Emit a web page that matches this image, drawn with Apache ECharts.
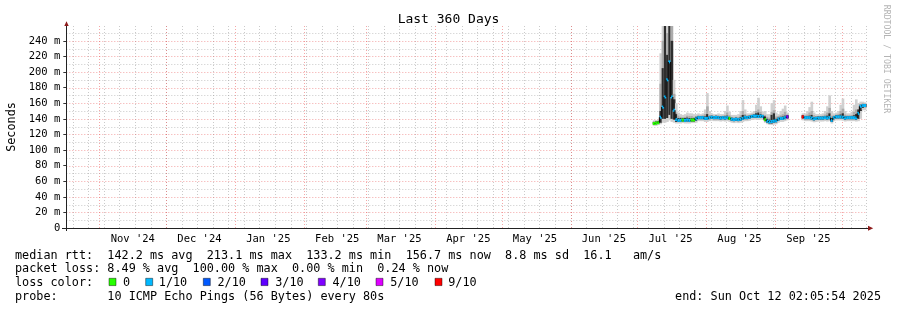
<!DOCTYPE html>
<html><head><meta charset="utf-8">
<script src="https://cdn.jsdelivr.net/npm/echarts@6/dist/echarts.min.js"></script>
<style>html,body{margin:0;padding:0;background:#fff}#c{width:897px;height:310px}</style>
</head><body><div id="c"></div>
<script>
// ---------- time frame ----------
const START = Date.UTC(2024, 9, 17, 2, 5, 54);
const END = Date.UTC(2025, 9, 12, 2, 5, 54);
const DAY = 86400000;
const DATA_START = Date.UTC(2025, 6, 8); // first daily sample (Jul 8 2025)

// ---------- tick labels ----------
const monthLabels = ["Nov '24","Dec '24","Jan '25","Feb '25","Mar '25","Apr '25","May '25","Jun '25","Jul '25","Aug '25","Sep '25"];
const yTicks = [0,20,40,60,80,100,120,140,160,180,200,220,240];
const yMinor = [10,30,50,70,90,110,130,150,170,190,210,230,250];

// ---------- daily values (ms), null = no data ----------
const median = [
134,134.5,135,142,155,168,190,213,168,151,
139,138,138,138.5,138,138.5,138,138.5,138.5,140,
141.5,141.5,141.5,140.5,140.5,141.5,142,141.5,141.8,141.5,
141,141.5,141,141.5,140.5,139.5,139,139.5,139,139.5,
140.5,141.8,141.5,142,143,143.5,143.5,143,143.5,143,
139,137,136,136.5,137,137.5,139.5,140.5,140.5,141.5,
142.5,null,null,null,null,null,null,142.5,141.5,141.5,
141.5,141,140,140.5,141,141,141,141.5,141,141.5,
138,141.5,142.5,142.5,142.5,142,141,141.5,141.5,141.5,
141.5,141,147,156,157,157];
// loss in tenths (pings lost out of 10)
const loss = [
0,0,0,1,1,1,1,1,1,1,
1,1,1,0,1,1,1,0,0,1,
1,1,1,1,1,1,1,1,1,1,
1,1,1,1,0,1,1,1,1,1,
1,1,1,1,1,1,1,1,1,1,
0,1,1,1,1,1,1,1,1,1,
4,null,null,null,null,null,null,9,1,1,
1,1,1,1,1,1,1,1,1,1,
1,1,1,1,1,1,1,1,1,1,
1,1,1,1,1,1];
// smoke: outer low / outer high / middle high / core low / core high
const smokeLo = [
131,131,132,133,135,135,136,138,136,135,
134,134,134,134.5,134,134,134,134.5,134.5,135,
137,137,137,136,136,137,137.5,137,137,137,
136.5,137,136.5,137,136,135,134.5,135,134.5,135,
136,137,137,137.5,138.5,139,139,138.5,139,138.5,
135,133,132,132,132.5,133,135,136,136,137,
138,null,null,null,null,null,null,138,137,137,
137,136.5,135.5,136,136.5,136.5,136.5,137,136.5,137,
134,137,138,138,138,137.5,136.5,137,137,137,
137,136.5,137,140,151,151];
const smokeHi = [
138,138.5,139,224,262,262,262,262,262,190,
160,148,146,145,146,148,147,147,146,146,
147,146,147,152,173,150,147,146,146,147,
146,146,150,157,149,145,145,145,146,150,
164,152,147,147,148,150,158,167,156,149,
150,146,146,160,164,148,146,150,153,157,
148,null,null,null,null,null,null,147,147,150,
155,162,148,146,146,146,147,150,156,170,
150,147,148,150,158,166,150,147,147,149,
158,165,160,162,162,161];
const midHi = [
136.5,137,137.5,185,240,262,250,262,262,172,
148,144,142.5,142,142.5,144,143.5,143.5,142.5,143.5,
144.5,144,144.5,146,156,145,144.5,144,144,144.5,
143.5,144,145,148,144.5,142.5,142,142.5,142.5,144.5,
150,146,144.5,144.5,145.5,146.5,150,152,149,145.5,
145,142.5,141.5,149,151,143,143.5,144.5,146,149,
145.5,null,null,null,null,null,null,145,144.5,145.5,
148,150,144.5,143.5,143.5,143.5,144,145.5,148,154,
144,144.5,145.5,146.5,150,153,145.5,144.5,144.5,145,
149,152,152,159,160,159.5];
const coreLo = [
133,133,133.5,135,140,140,141,145,140,139,
136,136,136,136.5,136,136.5,136,136.5,136.5,137.5,
139.5,139.5,139.5,138.5,138.5,139.5,140,139.5,139.5,139.5,
139,139.5,139,139.5,138.5,137.5,137,137.5,137,137.5,
138.5,139.5,139.5,140,141,141.5,141.5,141,141.5,141,
137,135,134,134,135,135.5,137.5,138.5,138.5,139.5,
140.5,null,null,null,null,null,null,140.5,139.5,139.5,
139.5,139,138,138.5,139,139,139,139.5,139,139.5,
136,139.5,140.5,140.5,140.5,140,139,139.5,139.5,139.5,
139.5,139,140,150,154,155];
const coreHi = [
136,136.5,137,150,205,262,222,262,240,165,
146,141,141,141,141,141.5,141,141,141,142.5,
143.5,143.5,143.5,143,146,143.5,144,143.5,144,143.5,
143,143.5,143,144,142.5,141.5,141,141.5,141,142,
145,144,143.5,144,145,145.5,147,148,146,145,
143,140,139,145,147,140,141.5,142.5,143,144,
144.5,null,null,null,null,null,null,144.5,143.5,143.5,
144,145,142,142.5,143,143,143,143.5,144,147,
141,143.5,144.5,144.5,145.5,147,143,143.5,143.5,143.5,
144.5,146,152,158,159,159];

const LOSS_COLORS = {0:'#26ff00',1:'#00b8ff',2:'#0059ff',3:'#5e00ff',4:'#7e00ff',5:'#dd00ff',9:'#ff0000'};
const legendLoss = [[0,'0'],[1,'1/10'],[2,'2/10'],[3,'3/10'],[4,'4/10'],[5,'5/10'],[9,'9/10']];

// ---------- grid positions ----------
const monthStarts = [];
for (let k = 0; k < 12; k++) monthStarts.push(Date.UTC(2024, 10 + k, 1));
const labelTimes = monthLabels.map((_, k) => Date.UTC(2024, 10 + k, 16));
const weeks = [];
for (let t = Date.UTC(2024, 9, 20); t <= END; t += 7 * DAY) weeks.push(t);

// ---------- build series data ----------
const smokeData = [], medData = [];
median.forEach((m, i) => {
  if (m == null) return;
  const t = DATA_START + i * DAY;
  smokeData.push([t, smokeLo[i], smokeHi[i], midHi[i], coreLo[i], coreHi[i]]);
  const prev = i > 0 ? median[i - 1] : null;
  medData.push([t, m, loss[i], prev == null ? NaN : prev]);
});
const vgridData = weeks.map(t => [t, 0, 0]).concat(monthStarts.map(t => [t, 0, 1]));
const hgridData = yMinor.map(v => [START, v, 0]).concat(yTicks.filter(v => v > 0).map(v => [START, v, 1]));

const MONO = '"DejaVu Sans Mono", monospace';
const MINOR = {stroke: 'rgba(150,150,150,0.5)', lineWidth: 1, lineDash: [1, 2]};
const MAJOR = {stroke: 'rgba(235,80,80,0.5)', lineWidth: 1, lineDash: [1, 2]};

const chart = echarts.init(document.getElementById('c'));

const graphics = [];
function txt(x, y, s, opt) {
  graphics.push(Object.assign({type: 'text', x: x, y: y, silent: true,
    style: Object.assign({text: s, font: '11.8px ' + MONO, fill: '#000', align: 'left', verticalAlign: 'middle'}, opt || {})}));
}
// title
txt(448.5, 19.4, 'Last 360 Days', {font: '13px ' + MONO, align: 'center'});
// y axis name
graphics.push({type: 'text', x: 11.5, y: 127, rotation: Math.PI / 2, silent: true,
  style: {text: 'Seconds', font: '11.8px ' + MONO, fill: '#000', align: 'center', verticalAlign: 'middle'}});
// watermark
graphics.push({type: 'text', x: 886.6, y: 59, rotation: -Math.PI / 2, silent: true,
  style: {text: 'RRDTOOL / TOBI OETIKER', font: '8.2px ' + MONO, fill: '#b4b4b4', align: 'center', verticalAlign: 'middle'}});
// axes
graphics.push({type: 'line', silent: true, z: 50, shape: {x1: 62, y1: 228.5, x2: 868, y2: 228.5}, style: {stroke: '#222', lineWidth: 1}});
graphics.push({type: 'line', silent: true, z: 50, shape: {x1: 66.5, y1: 26, x2: 66.5, y2: 231}, style: {stroke: '#222', lineWidth: 1}});
graphics.push({type: 'polygon', silent: true, z: 50, shape: {points: [[64.3, 26], [68.7, 26], [66.5, 21.3]]}, style: {fill: '#8e1b1b'}});
graphics.push({type: 'polygon', silent: true, z: 50, shape: {points: [[868, 225.8], [868, 230.8], [873.2, 228.3]]}, style: {fill: '#8e1b1b'}});
// legend
txt(15, 255.8, 'median rtt:  142.2 ms avg  213.1 ms max  133.2 ms min  156.7 ms now  8.8 ms sd  16.1   am/s');
txt(15, 269.4, 'packet loss: 8.49 % avg  100.00 % max  0.00 % min  0.24 % now');
txt(15, 283, 'loss color:');
const boxX = [109, 145.7, 203.3, 261, 318.3, 376, 435];
const boxTxtX = [123, 158.8, 217.5, 275.2, 332.5, 390.2, 448.2];
legendLoss.forEach(([lv, label], k) => {
  graphics.push({type: 'rect', silent: true, shape: {x: boxX[k], y: 278.3, width: 7, height: 7.3},
    style: {fill: LOSS_COLORS[lv], stroke: 'rgba(0,0,0,0.55)', lineWidth: 0.8}});
  txt(boxTxtX[k], 283, label);
});
txt(15, 297.2, 'probe:       10 ICMP Echo Pings (56 Bytes) every 80s');
txt(881, 297.2, 'end: Sun Oct 12 02:05:54 2025', {align: 'right'});

chart.setOption({
  backgroundColor: '#fff',
  animation: false,
  grid: {left: 66.3, top: 26, width: 800, height: 202},
  xAxis: {
    type: 'value', min: START, max: END,
    axisLine: {show: false}, axisTick: {show: false}, splitLine: {show: false},
    axisLabel: {
      customValues: labelTimes, margin: 6, hideOverlap: false,
      fontFamily: MONO, fontSize: 10.5, color: '#000',
      formatter: v => { const k = labelTimes.indexOf(v); return k >= 0 ? monthLabels[k] : ''; }
    }
  },
  yAxis: {
    type: 'value', min: 0, max: 259,
    axisLine: {show: false}, splitLine: {show: false},
    axisTick: {show: true, length: 3, customValues: yTicks, lineStyle: {color: '#333'}},
    axisLabel: {customValues: yTicks, margin: 6, fontFamily: MONO, fontSize: 10.5, color: '#000',
      formatter: v => v === 0 ? '0' : v + ' m'}
  },
  graphic: graphics,
  series: [
    {
      type: 'custom', name: 'vgrid', z: 1, silent: true, data: vgridData,
      renderItem: (params, api) => {
        const cs = params.coordSys;
        const x = Math.round(api.coord([api.value(0), 0])[0]) + 0.5;
        return {type: 'line', shape: {x1: x, y1: cs.y, x2: x, y2: cs.y + cs.height},
          style: Object.assign({}, api.value(2) ? MAJOR : MINOR)};
      }
    },
    {
      type: 'custom', name: 'hgrid', z: 1, silent: true, data: hgridData,
      renderItem: (params, api) => {
        const cs = params.coordSys;
        const y = Math.round(api.coord([START, api.value(1)])[1]) + 0.5;
        return {type: 'line', shape: {x1: cs.x, y1: y, x2: cs.x + cs.width, y2: y},
          style: Object.assign({}, api.value(2) ? MAJOR : MINOR)};
      }
    },
    {
      type: 'custom', name: 'smoke', z: 2, silent: true, data: smokeData,
      renderItem: (params, api) => {
        const cs = params.coordSys;
        const top = cs.y, bottom = cs.y + cs.height;
        const t = api.value(0);
        const xa = api.coord([t, 0])[0], xb = api.coord([t + DAY, 0])[0];
        const band = (lo, hi, fill) => {
          let y1 = Math.max(api.coord([t, hi])[1], top);
          let y2 = Math.min(api.coord([t, lo])[1], bottom);
          return {type: 'rect', shape: {x: xa, y: y1, width: xb - xa + 0.4, height: y2 - y1}, style: {fill: fill}};
        };
        return {type: 'group', children: [
          band(api.value(1), api.value(2), '#d0d0d0'),
          band(api.value(4), api.value(3), '#ababab'),
          band(api.value(4), api.value(5), '#2e2e2e')
        ]};
      }
    },
    {
      type: 'custom', name: 'median', z: 3, silent: true, data: medData,
      renderItem: (params, api) => {
        const t = api.value(0), m = api.value(1), pm = api.value(3);
        const p0 = api.coord([t, m]), p1 = api.coord([t + DAY, m]);
        const children = [{type: 'line', shape: {x1: p0[0], y1: p0[1], x2: p1[0], y2: p1[1]},
          style: {stroke: LOSS_COLORS[api.value(2)], lineWidth: 3}}];
        if (!isNaN(pm) && pm !== m) {
          const q = api.coord([t, pm]);
          children.push({type: 'line', shape: {x1: p0[0], y1: q[1], x2: p0[0], y2: p0[1]},
            style: {stroke: '#111', lineWidth: 1.2}});
        }
        return {type: 'group', children: children};
      }
    }
  ]
});
</script>
</body></html>
